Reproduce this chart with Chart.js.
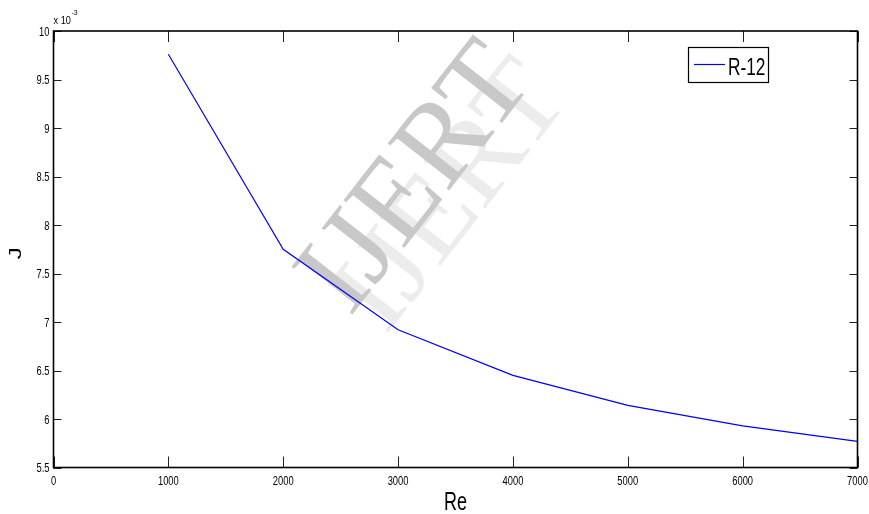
<!DOCTYPE html>
<html>
<head>
<meta charset="utf-8">
<script src="https://cdn.jsdelivr.net/npm/chart.js@4"></script>
<style>
html,body{margin:0;padding:0;background:#fff;}
canvas{display:block;}
</style>
</head>
<body>
<canvas id="c" width="869" height="514"></canvas>
<script>
// Data (J in units of 10^-3)
const seriesLabel = 'R-12';
const reValues = [1000, 2000, 3000, 4000, 5000, 6000, 7000];
const jValues = [9.76, 7.75, 6.92, 6.45, 6.14, 5.93, 5.77];
const xTickValues = [0, 1000, 2000, 3000, 4000, 5000, 6000, 7000];
const yTickValues = [5.5, 6, 6.5, 7, 7.5, 8, 8.5, 9, 9.5, 10];
const xTitle = 'Re';
const yTitle = 'J';
const yExponentText = 'x 10';
const yExponentPower = '-3';
const watermarkText = 'IJERT';

const FONT = '"Liberation Sans", Arial, sans-serif';
const SQ = 0.72; // horizontal squeeze of the original image

function sqText(ctx, text, x, y, font, align, baseline, sx) {
  ctx.save();
  ctx.font = font;
  ctx.textAlign = align;
  ctx.textBaseline = baseline;
  ctx.translate(x, y);
  ctx.scale(sx, 1);
  ctx.fillText(text, 0, 0);
  ctx.restore();
}

const framePlugin = {
  id: 'frame',
  beforeDatasetsDraw(chart) {
    const ctx = chart.ctx;
    const wm = (cx, cy, color) => {
      ctx.save();
      ctx.font = '118px "Liberation Serif", "DejaVu Serif", serif';
      ctx.textAlign = 'center';
      ctx.textBaseline = 'middle';
      ctx.translate(cx, cy);
      ctx.rotate(-52 * Math.PI / 180);
      ctx.fillStyle = color;
      ctx.fillText(watermarkText, 0, 0);
      ctx.restore();
    };
    wm(454, 198, 'rgb(236,236,236)');
    wm(418, 180, 'rgb(200,200,200)');
  },
  afterDatasetsDraw(chart) {
    const ctx = chart.ctx, a = chart.chartArea;
    const xs = chart.scales.x, ys = chart.scales.y;
    ctx.save();
    ctx.strokeStyle = '#222';
    ctx.lineWidth = 1;
    // inward ticks (top/bottom and left/right)
    ctx.beginPath();
    xs.ticks.forEach(t => {
      const px = Math.round(xs.getPixelForValue(t.value)) + 0.5;
      ctx.moveTo(px, a.bottom); ctx.lineTo(px, a.bottom - 11);
      ctx.moveTo(px, a.top); ctx.lineTo(px, a.top + 11);
    });
    ys.ticks.forEach(t => {
      const py = Math.round(ys.getPixelForValue(t.value)) + 0.5;
      ctx.moveTo(a.left, py); ctx.lineTo(a.left + 8, py);
      ctx.moveTo(a.right, py); ctx.lineTo(a.right - 8, py);
    });
    ctx.stroke();
    // frame
    ctx.strokeStyle = '#000';
    ctx.lineWidth = 1.6;
    ctx.strokeRect(a.left, a.top, a.right - a.left, a.bottom - a.top);
    ctx.fillStyle = '#000';
    // tick labels
    xs.ticks.forEach(t => {
      const px = xs.getPixelForValue(t.value);
      sqText(ctx, String(t.value), px, 485, '13px ' + FONT, 'center', 'alphabetic', SQ);
    });
    ys.ticks.forEach(t => {
      const py = ys.getPixelForValue(t.value);
      sqText(ctx, String(t.value), a.left - 4, py + 4.7, '13px ' + FONT, 'right', 'alphabetic', SQ);
    });
    // axis titles
    sqText(ctx, xTitle, (a.left + a.right) / 2, 510, '25px ' + FONT, 'center', 'alphabetic', SQ);
    ctx.save();
    ctx.font = '24px ' + FONT;
    ctx.textAlign = 'center';
    ctx.textBaseline = 'middle';
    ctx.translate(16.5, (a.top + a.bottom) / 2 + 4);
    ctx.scale(SQ, 1);
    ctx.rotate(-Math.PI / 2);
    ctx.fillText(yTitle, 0, 0);
    ctx.restore();
    // exponent label
    sqText(ctx, yExponentText, a.left, 24, '10px ' + FONT, 'left', 'alphabetic', 0.92);
    ctx.font = '10px ' + FONT;
    const w = ctx.measureText(yExponentText).width * 0.92;
    sqText(ctx, yExponentPower, a.left + w + 0.5, 15, '8px ' + FONT, 'left', 'alphabetic', 0.85);
    // legend
    const ds = chart.data.datasets[0];
    ctx.fillStyle = '#fff';
    ctx.fillRect(688, 47, 80, 35);
    ctx.strokeStyle = '#000';
    ctx.lineWidth = 1.2;
    ctx.strokeRect(688.5, 47.5, 80, 35);
    ctx.strokeStyle = ds.borderColor;
    ctx.lineWidth = 1.2;
    ctx.beginPath();
    ctx.moveTo(694, 64.5); ctx.lineTo(725, 64.5);
    ctx.stroke();
    ctx.fillStyle = '#000';
    sqText(ctx, ds.label, 728, 74.5, '24px ' + FONT, 'left', 'alphabetic', SQ);
    ctx.restore();
  }
};

new Chart(document.getElementById('c'), {
  type: 'line',
  data: {
    datasets: [{
      label: seriesLabel,
      data: reValues.map((x, i) => ({ x: x, y: jValues[i] })),
      borderColor: '#0000ff',
      borderWidth: 1.2,
      pointRadius: 0,
      tension: 0,
      fill: false
    }]
  },
  options: {
    responsive: false,
    animation: false,
    devicePixelRatio: 1,
    layout: { padding: { top: 31, right: 11.5, bottom: 0, left: 0 } },
    plugins: { legend: { display: false }, tooltip: { enabled: false } },
    scales: {
      x: {
        type: 'linear',
        min: 0, max: 7000,
        afterBuildTicks: s => { s.ticks = xTickValues.map(v => ({ value: v })); },
        afterFit: s => { s.height = 46.5; s.paddingLeft = 0; s.paddingRight = 0; },
        grid: { display: false, drawTicks: false },
        border: { display: false },
        ticks: { display: false },
        title: { display: false, text: xTitle }
      },
      y: {
        type: 'linear',
        min: 5.5, max: 10,
        afterBuildTicks: s => { s.ticks = yTickValues.map(v => ({ value: v })); },
        afterFit: s => { s.width = 53.5; s.paddingTop = 0; s.paddingBottom = 0; },
        grid: { display: false, drawTicks: false },
        border: { display: false },
        ticks: { display: false },
        title: { display: false, text: yTitle }
      }
    }
  },
  plugins: [framePlugin]
});
</script>
</body>
</html>
